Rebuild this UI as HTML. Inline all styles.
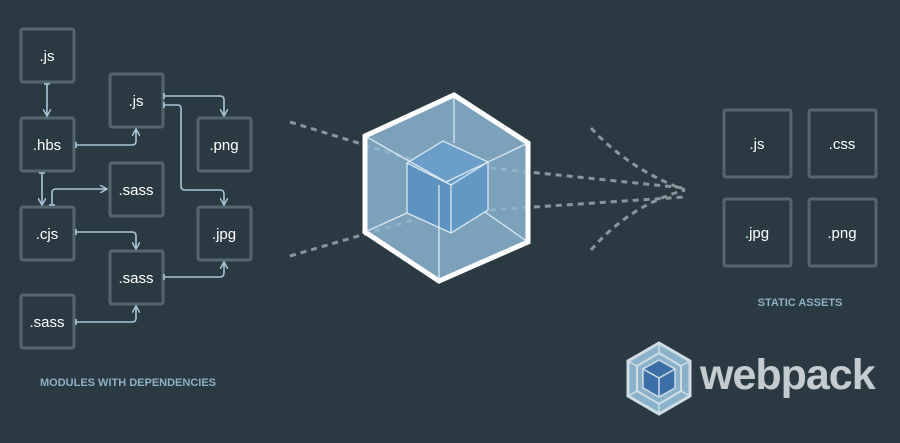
<!DOCTYPE html>
<html><head><style>
html,body{margin:0;padding:0;background:#2b3a42;}
svg{display:block;}
text{font-family:"Liberation Sans",sans-serif;}
</style></head><body>
<svg width="900" height="443" viewBox="0 0 900 443" xmlns="http://www.w3.org/2000/svg">
<rect width="900" height="443" fill="#2b3a42"/>
<g fill="none" stroke="#56666e" stroke-width="3">
<rect x="21" y="29" width="53" height="53" rx="2"/>
<rect x="21" y="118" width="53" height="53" rx="2"/>
<rect x="21" y="207" width="53" height="53" rx="2"/>
<rect x="21" y="295" width="53" height="53" rx="2"/>
<rect x="110" y="74" width="53" height="53" rx="2"/>
<rect x="110" y="163" width="53" height="53" rx="2"/>
<rect x="110" y="251" width="53" height="53" rx="2"/>
<rect x="198" y="118" width="53" height="53" rx="2"/>
<rect x="198" y="207" width="53" height="53" rx="2"/>
<rect x="724" y="110" width="67" height="67" rx="2"/>
<rect x="809" y="110" width="67" height="67" rx="2"/>
<rect x="724" y="199" width="67" height="67" rx="2"/>
<rect x="809" y="199" width="67" height="67" rx="2"/>
</g>
<g fill="#ffffff" font-size="15" text-anchor="middle">
<text x="47" y="61">.js</text>
<text x="47" y="150">.hbs</text>
<text x="47" y="239">.cjs</text>
<text x="47" y="327">.sass</text>
<text x="136" y="106">.js</text>
<text x="136" y="195">.sass</text>
<text x="136" y="283">.sass</text>
<text x="224" y="150">.png</text>
<text x="224" y="239">.jpg</text>
<text x="757" y="149">.js</text>
<text x="842" y="149">.css</text>
<text x="757" y="238">.jpg</text>
<text x="842" y="238">.png</text>
</g>
<defs><marker id="a" markerWidth="8" markerHeight="8" refX="6" refY="4" orient="auto" markerUnits="userSpaceOnUse"><path d="M0,0 L7,4 L0,8" fill="none" stroke="#a9c6d9" stroke-width="1.5"/></marker></defs>
<g fill="none" stroke="#a9c6d9" stroke-width="1.6" marker-end="url(#a)" stroke-linejoin="round">
<path d="M47,84 V115"/>
<path d="M76,145 H132 Q136,145 136,141 V130"/>
<path d="M42,173 V204"/>
<path d="M52,205 V193 Q52,189 56,189 H106"/>
<path d="M76,232 H132 Q136,232 136,236 V248"/>
<path d="M76,322 H132 Q136,322 136,318 V307"/>
<path d="M164,96 H220 Q224,96 224,100 V115"/>
<path d="M164,105 H178 Q181,105 181,109 V186 Q181,190 185,190 H220 Q224,190 224,194 V204"/>
<path d="M164,277 H220 Q224,277 224,273 V263"/>
</g>
<g stroke="#a9c6d9" stroke-width="1.6">
<path d="M44,84H50M76,142V148M39,173H45M49,205H55M76,229V235M76,319V325M164,93V99M164,102V108M164,274V280"/>
</g>
<g fill="none" stroke="#8a959c" stroke-width="3" stroke-dasharray="6 5">
<path d="M290,122 L420,162"/>
<path d="M290,256 L420,218"/>
<path d="M490,168 L684,188"/>
<path d="M490,210 L684,197"/>
<path d="M591,128 Q630,170 685,190"/>
<path d="M591,250 Q630,205 685,190"/>
</g>
<polygon points="454,95 528,143 528,242 439,281 365,232 365,136" fill="#8dbad4" fill-opacity="0.82"/>
<polygon points="443,141 488,162 451,185 407,163" fill="#6b9fc9"/>
<polygon points="407,163 451,185 451,233 407,213" fill="#5e92c0"/>
<polygon points="451,185 488,162 488,210 451,233" fill="#6398c5"/>
<g fill="none" stroke="#dbe8f0" stroke-width="1.3">
<polygon points="443,141 488,162 488,210 451,233 407,213 407,163"/>
<path d="M407,163 L451,185 L488,162 M451,185 V233"/>
<path d="M454,95 V143 M365,136 L446,182 M528,143 L446,182 M439,281 V185 M365,232 L407,213 M528,242 L485,212"/>
</g>
<polygon points="454,95 528,143 528,242 439,281 365,232 365,136" fill="none" stroke="#ffffff" stroke-width="5" stroke-linejoin="miter"/>
<text x="40" y="386" font-size="11" font-weight="bold" fill="#8fb0c4">MODULES WITH DEPENDENCIES</text>
<text x="800" y="306" font-size="11" font-weight="bold" fill="#8fb0c4" text-anchor="middle">STATIC ASSETS</text>
<g transform="translate(659,378)">
<polygon points="0,-35 31,-17 31,18 0,36 -31,18 -31,-17" fill="#8ab3cb" stroke="#d0dde5" stroke-width="3"/>
<polygon points="0,-25 22,-12 22,13 0,26 -22,13 -22,-12" fill="none" stroke="#d0dde5" stroke-width="2"/>
<polygon points="0,-18 16,-9 16,10 0,19 -16,10 -16,-9" fill="#3c6fa7" stroke="#d0dde5" stroke-width="1.5"/>
<path d="M-16,-9 L0,0 L16,-9 M0,0 V19 M0,-35V-25M31,-17L22,-12M31,18L22,13M0,36V26M-31,18L-22,13M-31,-17L-22,-12" stroke="#d0dde5" stroke-width="1.5" fill="none"/>
</g>
<text x="700" y="389" font-size="43" font-weight="bold" fill="#c5ccd0" letter-spacing="-1">webpack</text>
</svg>
</body></html>
